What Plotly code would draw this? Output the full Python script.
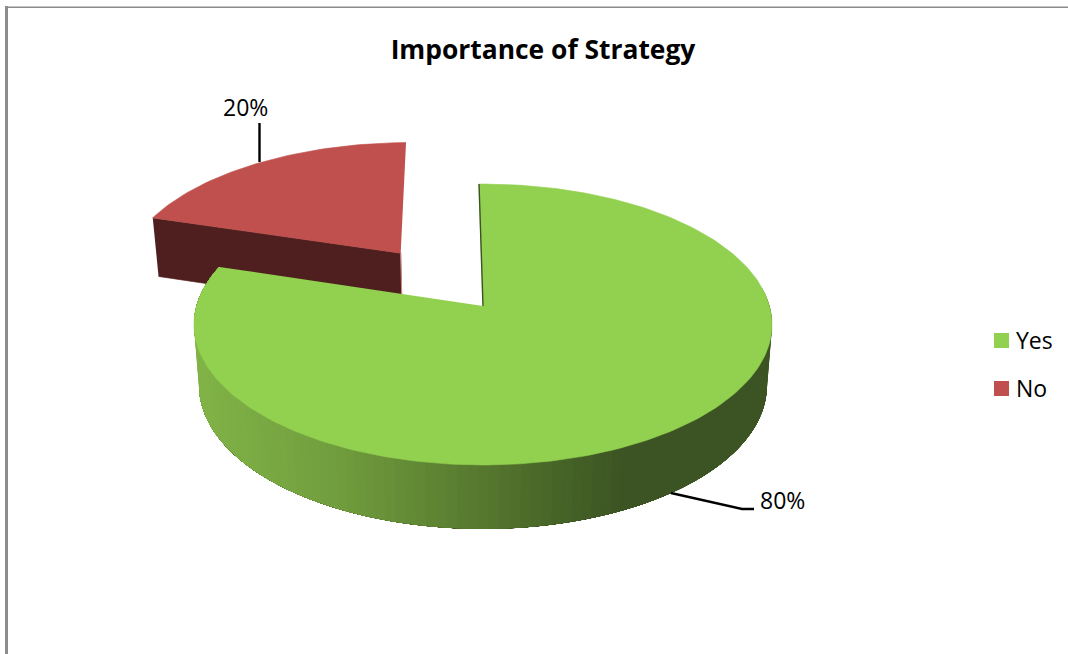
import math
import plotly.graph_objects as go

# Chart content
TITLE = "Importance of Strategy"
categories = ["Yes", "No"]
values = [80, 20]
value_labels = ["80%", "20%"]
top_colors = ["#92d050", "#c0504d"]
side_color_no = "#4f1f1f"

# Slice pull-out as a fraction of the radius
explode = [0.0, 0.504]

# Page is laid out in 1068x654 pixel units
W, H = 1068, 654

# Perspective of the tilted disc
START_DEG = -0.9
PERSPECTIVE = 0.1317
UPPER = dict(cx=483.0, cy=306.0, sx=286.5, sy=138.0)
LOWER = dict(cx=483.0, cy=366.5, sx=281.5, sy=141.0)

# Shading of the rim, left to right across the page
RIM_STOPS = [
    (195, (130, 180, 72)),
    (340, (113, 158, 62)),
    (450, (93, 130, 50)),
    (540, (75, 106, 41)),
    (625, (60, 84, 35)),
    (780, (60, 84, 35)),
]


def project(u, v, plane):
    w = 1 - PERSPECTIVE * v
    return plane["cx"] + plane["sx"] * u / w, plane["cy"] + plane["sy"] * v / w


def rim_point(theta_deg, offset, plane):
    t = math.radians(theta_deg)
    return project(offset[0] + math.sin(t), offset[1] - math.cos(t), plane)


def rim_color(x):
    for (x0, c0), (x1, c1) in zip(RIM_STOPS, RIM_STOPS[1:]):
        if x <= x1:
            f = max(0.0, (x - x0) / (x1 - x0))
            return "rgb(%d,%d,%d)" % tuple(round(a + (b - a) * f) for a, b in zip(c0, c1))
    return "rgb(%d,%d,%d)" % RIM_STOPS[-1][1]


def polygon(points, color, edge=0.6):
    return go.Scatter(
        x=[p[0] for p in points],
        y=[p[1] for p in points],
        mode="lines",
        fill="toself",
        fillcolor=color,
        line=dict(color=color, width=edge),
        hoverinfo="skip",
        showlegend=False,
    )


def stroke(points, color, width):
    return go.Scatter(
        x=[p[0] for p in points],
        y=[p[1] for p in points],
        mode="lines",
        line=dict(color=color, width=width),
        hoverinfo="skip",
        showlegend=False,
    )


# Angular extent and offset of each slice
total = sum(values)
spans, offsets = [], []
angle = START_DEG
for value, pull in zip(values, explode):
    sweep = 360.0 * value / total
    mid = math.radians(angle + sweep / 2)
    spans.append((angle, angle + sweep))
    offsets.append((pull * math.sin(mid), -pull * math.cos(mid)))
    angle += sweep

fig = go.Figure()

# "No" slice: cut face first, its top on top of that
a0, a1 = spans[1]
off = offsets[1]
apex_top = project(off[0], off[1], UPPER)
apex_low = project(off[0], off[1], LOWER)
fig.add_trace(polygon(
    [rim_point(a0, off, UPPER), apex_top, apex_low, rim_point(a0, off, LOWER)],
    side_color_no,
))
fig.add_trace(stroke([apex_top, apex_low], "#d08a88", 1))
steps = 60
fig.add_trace(polygon(
    [apex_top] + [rim_point(a0 + (a1 - a0) * i / steps, off, UPPER) for i in range(steps + 1)],
    top_colors[1],
))

# "Yes" slice: the rim is painted from the right, each band running on to the
# far end of the rim so the next one overpaints it and no seams show
a0, a1 = spans[0]
off = offsets[0]
bands = 110
rim_from, rim_to = 82.0, a1
for i in range(bands):
    t0 = rim_from + (rim_to - rim_from) * i / bands
    arc = [t0 + (rim_to - t0) * j / 80 for j in range(81)]
    outline = [rim_point(t, off, UPPER) for t in arc] + [rim_point(t, off, LOWER) for t in reversed(arc)]
    fig.add_trace(polygon(outline, rim_color(rim_point(t0, off, LOWER)[0]), edge=0))

apex = project(off[0], off[1], UPPER)
steps = 240
fig.add_trace(polygon(
    [apex] + [rim_point(a0 + (a1 - a0) * i / steps, off, UPPER) for i in range(steps + 1)],
    top_colors[0],
))
fig.add_trace(stroke([rim_point(a0, off, UPPER), apex], "#3c5423", 1.4))

# Leader lines
fig.add_trace(stroke([(259.5, 123), (259.5, 162)], "#000000", 2.4))
fig.add_trace(stroke([(671, 493), (742, 509), (754, 509)], "#000000", 2.4))

# Key on the right
KEY_X = 1001.5
KEY_TEXT_X = 1016
KEY_Y = [340.5, 388.5]
for name, color, y in zip(categories, top_colors, KEY_Y):
    fig.add_trace(go.Scatter(
        x=[KEY_X], y=[y],
        mode="markers",
        marker=dict(symbol="square", size=15, color=color),
        hoverinfo="skip",
        showlegend=False,
        name=name,
    ))

label_positions = [(782, 500), (245, 107)]
annotations = [
    dict(x=x, y=y, text=text, showarrow=False, xanchor="center", yanchor="middle",
         font=dict(size=23, color="#000000"))
    for text, (x, y) in zip(value_labels, label_positions)
]
annotations += [
    dict(x=KEY_TEXT_X, y=y - 1, text=name, showarrow=False, xanchor="left", yanchor="middle",
         xshift=-2, font=dict(size=23, color="#000000"))
    for name, y in zip(categories, KEY_Y)
]

FRAME = "#8c8c8c"
shapes = [
    dict(type="line", x0=6.5, x1=6.5, y0=6, y1=H, line=dict(color=FRAME, width=3)),
    dict(type="line", x0=5, x1=W, y0=7.3, y1=7.3, line=dict(color=FRAME, width=1.6)),
]

fig.update_layout(
    width=W,
    height=H,
    margin=dict(l=0, r=0, t=0, b=0),
    paper_bgcolor="#ffffff",
    plot_bgcolor="#ffffff",
    font=dict(family="Open Sans, sans-serif", color="#000000"),
    title=dict(
        text="<b>%s</b>" % TITLE,
        x=543 / W, xanchor="center",
        y=1 - 50 / H, yanchor="middle",
        font=dict(size=26.4, color="#000000"),
    ),
    xaxis=dict(range=[0, W], visible=False, fixedrange=True),
    yaxis=dict(range=[H, 0], visible=False, fixedrange=True),
    annotations=annotations,
    shapes=shapes,
    showlegend=False,
)

fig.write_html("out.html", config=dict(displayModeBar=False))
